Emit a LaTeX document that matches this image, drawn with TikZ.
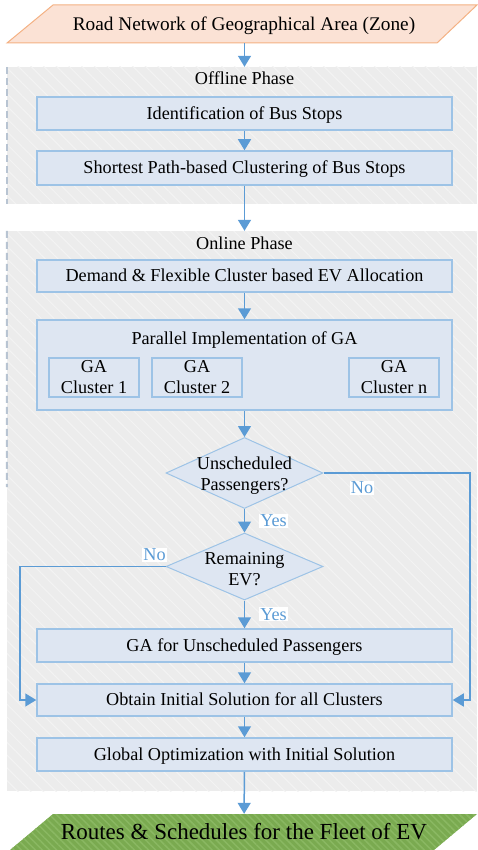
\documentclass[tikz,border=0pt]{standalone}
\usepackage{fontspec}
\setmainfont{Liberation Serif}
\usepackage{tikz}
\usetikzlibrary{arrows.meta,positioning,calc,shapes.geometric,patterns.meta}
\definecolor{flowblue}{RGB}{91,155,213}
\definecolor{boxblue}{RGB}{222,230,242}
\definecolor{boxedge}{RGB}{157,195,230}
\definecolor{phasegray}{RGB}{236,236,236}
\definecolor{hatchgray}{RGB}{243,243,243}
\definecolor{zonefill}{RGB}{251,226,213}
\definecolor{zoneedge}{RGB}{244,177,131}
\definecolor{routegreen}{RGB}{122,170,80}
\definecolor{hatchgreen}{RGB}{138,184,98}
\definecolor{dashgray}{RGB}{184,196,210}

\begin{document}
\begin{tikzpicture}[x=1pt, y=-1pt,
    font=\fontsize{18.2}{21}\selectfont,
    textrow/.style={text height=14pt, text depth=2.5pt},
    box/.style={textrow, draw=boxedge, fill=boxblue, line width=1.5pt, minimum width=415pt, minimum height=33pt, inner sep=0pt},
    gabox/.style={draw=boxedge, fill=boxblue, line width=1.5pt, minimum width=90pt, minimum height=39pt, inner sep=0pt, align=center},
    decision/.style={diamond, draw=boxedge, fill=boxblue, line width=1pt, minimum width=157pt, minimum height=71pt, inner sep=0pt},
    phase/.style={fill=phasegray, postaction={pattern={Lines[angle=-45, distance=9pt, line width=1pt]}, pattern color=hatchgray}, minimum width=470pt, inner sep=0pt},
    arrow/.style={-{Triangle[length=11pt, width=13pt]}, line width=1.5pt, flowblue},
    answer/.style={fill=white, text=flowblue, inner sep=1pt}
]
\useasboundingbox (0,0) rectangle (477,850);

% Input zone
\filldraw[draw=zoneedge, fill=zonefill, line width=1pt] (53,5) -- (477,5) -- (437,43) -- (7,43) -- cycle;
\node[font=\fontsize{19.3}{22}\selectfont, text height=14.5pt, text depth=1.5pt, minimum height=38pt, inner sep=0pt] (zone) at (244,24) {Road Network of Geographical Area (Zone)};

% Offline phase
\node[phase, minimum height=137pt] (offline) at (242,135.5) {};
\draw[dashgray, line width=2pt, dash pattern=on 7pt off 4pt] (offline.north west) -- (offline.south west);
\node[textrow] (offtitle) at (244.5,79) {Offline Phase};
\node[box] (ident) at (244.5,113.5) {Identification of Bus Stops};
\node[box, minimum height=34pt] (spc) at (244.5,168) {Shortest Path-based Clustering of Bus Stops};

\draw[arrow] (zone.south -| ident.north) -- (offline.north -| ident.north);
\draw[arrow] (ident) -- (spc);

% Online phase
\node[phase, minimum height=560pt] (online) at (242,511) {};
\coordinate (dashend) at (7,487);
\draw[dashgray, line width=2pt, dash pattern=on 7pt off 4pt] (online.north west) -- (dashend);
\node[textrow] (ontitle) at (244.5,243.5) {Online Phase};
\node[box, minimum height=32pt] (alloc) at (244.5,276) {Demand \& Flexible Cluster based EV Allocation};

\node[box, minimum height=90pt] (par) at (244.5,365) {};
\node[textrow] (partitle) at (244.5,338.5) {Parallel Implementation of GA};
\node[gabox] (ga1) at (94,377.5) {GA\\Cluster 1};
\node[gabox] (ga2) at (197,377.5) {GA\\Cluster 2};
\node[gabox] (gan) at (394,377.5) {GA\\Cluster n};

\node[decision] (q1) at (244.5,473) {};
\node[align=center] (q1text) at (244.5,475.5) {Unscheduled\\Passengers?};
\node[decision, minimum height=67pt] (q2) at (244.5,566.5) {};
\node[align=center] (q2text) at (244.5,569) {Remaining\\EV?};

\node[box] (gaun) at (244.5,645.5) {GA for Unscheduled Passengers};
\node[box, minimum height=32pt] (init) at (244.5,700) {Obtain Initial Solution for all Clusters};
\node[box] (glob) at (244.5,754.5) {Global Optimization with Initial Solution};

% Output
\fill[routegreen, postaction={pattern={Lines[angle=-45, distance=5pt, line width=1.5pt]}, pattern color=hatchgreen}] (53,814) -- (477,814) -- (434,850) -- (10,850) -- cycle;
\node[font=\fontsize{23}{26}\selectfont, text height=16pt, text depth=2pt, minimum height=36pt, inner sep=0pt] (routes) at (244,832) {Routes \& Schedules for the Fleet of EV};

% Flow
\draw[arrow] (spc.south) -- (online.north -| spc.south);
\draw[arrow] (alloc) -- (par);
\draw[arrow] (par) -- (q1);
\draw[arrow] (q1) -- node[answer, right=14pt] (yes1) {Yes} (q2);
\draw[arrow] (q2) -- node[answer, right=14pt] (yes2) {Yes} (gaun);
\draw[arrow] (gaun) -- (init);
\draw[arrow] (init) -- (glob);
\draw[arrow] (glob) -- (routes);

\coordinate (rcol) at (470,0);
\coordinate (lcol) at (20,0);
\draw[arrow] (q1.east) -- (q1.east -| rcol) |- (init.east);
\draw[arrow] (q2.west) -- (q2.west -| lcol) |- (init.west);
\node[answer] (no1) at (362,488) {No};
\node[answer] (no2) at (154.5,555) {No};

\end{tikzpicture}
\end{document}
